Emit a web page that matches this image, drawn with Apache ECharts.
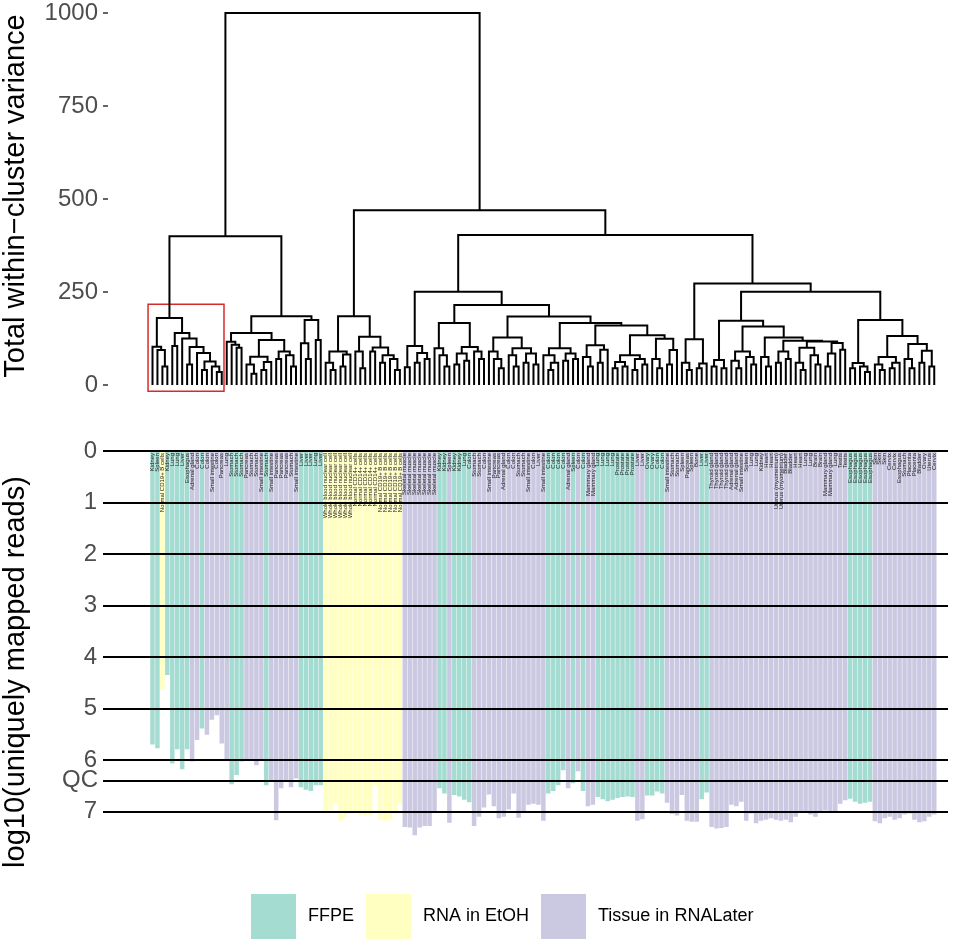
<!DOCTYPE html>
<html>
<head>
<meta charset="utf-8">
<script src="https://cdn.jsdelivr.net/npm/echarts@6/dist/echarts.min.js"></script>
<style>
html,body{margin:0;padding:0;background:#fff}
#main{width:980px;height:948px}
</style>
</head>
<body>
<div id="main"></div>
<script>
var SANS = '"Liberation Sans", Arial, sans-serif';

//聚类树：[合并高度, 左, 右]，叶子是它在排序中的位置
var tree =
[1000,
  [400,
    [180,
      [103, 0, [94, 1, [50, 2, 3]]],
      [140, [105, 4, 5],
        [125, 6, [102, [55, 7, 8], [86, 9, [63, [40, 10, 11], [50, 12, [35, 13, 14]]]]]]]],
    [185,
      [140,
        [116, 15, [108, 16, [100, 17, 18]]],
        [121,
          [76, [55, 19, [30, 20, 21]], [62, [40, 22, 23], 24]],
          [90, [70, 25, 26], [80, 27, [50, 28, 29]]]]],
      [175, [112, 30, [70, 31, 32]], [121, 33, 34]]]],
  [470,
    [185,
      [90, [60, 35, [40, 36, 37]], [82, [50, 38, 39], 40]],
      [130, [90, 41, [45, 42, 43]],
        [101, [90, 44, 45], [80, [60, 46, 47], [70, 48, [40, 49, 50]]]]]],
    [403,
      [251,
        [105, [48, 51, 52], [86, [60, 53, 54], [70, 55, 56]]],
        [215,
          [167,
            [99, 57, [80, 58, [50, 59, 60]]],
            [102, [85, [55, 61, 62], [65, 63, 64]], [90, 65, [70, 66, 67]]]],
          [184,
            [128,
              [90, 68, [70, 69, [45, 70, 71]]],
              [99, [80, 72, [50, 73, 74]], [85, [60, 75, 76], [55, 77, 78]]]],
            [167,
              [99, [80, 79, [60, [40, 80, 81], 82]], [85, [65, 83, 84], [70, 85, 86]]],
              [160,
                [107, [75, 87, [50, 88, 89]], [95, [60, 90, 91], 92]],
                [134,
                  [80, [62, [45, 93, 94], [50, 95, 96]], [70, [40, 97, 98], [55, 99, 100]]],
                  [124, [70, 101, [45, 102, 103]], [94, [55, 104, 105], 106]]]]]]]],
      [273,
        [123, [60, 107, [40, 108, 109]], [58, [45, 110, 111], 112]],
        [251,
          [173,
            [67, [50, 113, 114], [45, 115, 116]],
            [157,
              [90, [65, 117, [45, 118, 119]], [75, 120, [55, 121, 122]]],
              [128,
                [75, 123, [50, 124, 125]],
                [119,
                  [90, [60, 126, 127], [70, 128, 129]],
                  [117,
                    [100, [60, 130, [40, 131, 132]], [80, 133, [55, 134, 135]]],
                    [113, [85, [50, 136, 137], 138], [95, 139, 140]]]]]]],
          [175,
            [59, [45, 141, 142], [50, 143, [35, 144, 145]]],
            [132,
              [75, [55, 146, [40, 147, 148]], [60, [45, 149, 150], 151]],
              [110, [70, 152, [45, 153, 154]], [92, [60, 155, 156], [50, 157, 158]]]]]]]]]];

//红框圈出的簇：叶子范围和高度
var boxLeaves = [-0.9, 14.45];
var boxHeights = [-17, 217];

//每个样本的log10(唯一比对reads)
var logReads = [
  5.70, 5.77, 4.64, 4.35, 6.07, 5.79, 6.18, 5.79, 6.03, 5.61,
  5.39, 5.51, 5.22, 5.13, 5.68, 6.00, 6.47, 6.29, 6.03, 6.00,
  6.00, 6.10, 6.00, 6.49, 6.39, 7.17, 6.55, 6.39, 6.53, 6.36,
  6.53, 6.58, 6.60, 6.49, 6.49, 7.02, 6.98, 6.85, 7.18, 7.12,
  7.05, 7.00, 7.07, 7.08, 7.07, 6.50, 7.16, 7.18, 7.15, 7.05,
  6.85, 7.30, 7.31, 7.46, 7.31, 7.28, 7.28, 7.03, 6.55, 6.65,
  7.22, 6.68, 6.71, 6.77, 6.82, 7.28, 7.10, 6.92, 6.67, 6.90,
  7.13, 7.10, 6.96, 6.65, 7.12, 7.03, 6.87, 6.85, 6.87, 7.18,
  6.65, 6.60, 6.49, 6.20, 6.55, 6.45, 6.22, 6.60, 6.90, 6.87,
  6.72, 6.76, 6.80, 6.77, 6.74, 6.72, 6.71, 6.72, 7.18, 7.15,
  6.69, 6.69, 6.61, 6.65, 6.83, 7.05, 7.08, 6.68, 7.18, 7.20,
  7.20, 6.76, 6.63, 7.30, 7.33, 7.32, 7.30, 6.87, 6.90, 6.81,
  7.18, 7.04, 7.23, 7.18, 7.16, 7.13, 7.16, 7.18, 7.16, 7.21,
  7.10, 7.00, 7.00, 7.06, 7.10, 7.00, 6.98, 7.00, 7.00, 6.85,
  6.78, 6.75, 6.81, 6.85, 6.83, 6.81, 7.19, 7.23, 7.13, 7.10,
  7.16, 7.13, 7.06, 7.04, 7.16, 7.21, 7.19, 7.10, 7.06
];

//样本保存方式：0 FFPE, 1 RNA in EtOH, 2 Tissue in RNALater
var sampleType = [
  0, 0, 1, 0, 0, 0, 0, 0, 2, 2,
  0, 2, 2, 2, 2, 2, 0, 0, 0, 2,
  2, 2, 2, 0, 2, 2, 2, 2, 2, 2,
  0, 0, 0, 0, 0, 1, 1, 1, 1, 1,
  1, 1, 1, 1, 1, 1, 1, 1, 1, 1,
  1, 2, 2, 2, 2, 2, 2, 2, 0, 0,
  2, 0, 0, 0, 0, 2, 2, 2, 2, 2,
  2, 2, 2, 2, 2, 2, 2, 2, 2, 2,
  0, 0, 0, 0, 2, 0, 2, 0, 2, 2,
  0, 0, 0, 0, 0, 0, 0, 0, 2, 2,
  0, 0, 0, 0, 2, 2, 2, 2, 2, 2,
  2, 0, 0, 2, 2, 2, 2, 2, 2, 2,
  2, 2, 2, 2, 2, 2, 2, 2, 2, 2,
  2, 2, 2, 2, 2, 2, 2, 2, 2, 2,
  2, 0, 0, 0, 0, 0, 2, 2, 2, 2,
  2, 2, 2, 2, 2, 2, 2, 2, 2
];

var tissues = [
  'Kidney', 'Spleen', 'Normal CD19+ B cells', 'Kidney', 'Lung', 'Lung', 'Liver', 'Esophagus', 'Adrenal gland', 'Colon',
  'Colon', 'Colon', 'Small intestine', 'Colon', 'Pancreas', 'Lung', 'Stomach', 'Stomach', 'Stomach', 'Pancreas',
  'Stomach', 'Stomach', 'Small intestine', 'Stomach', 'Small intestine', 'Pancreas', 'Pancreas', 'Pancreas', 'Stomach', 'Small intestine',
  'Liver', 'Liver', 'Liver', 'Lung', 'Liver', 'Whole blood nuclear cell', 'Whole blood nuclear cell', 'Whole blood nuclear cell', 'Whole blood nuclear cell', 'Whole blood nuclear cell',
  'Whole blood nuclear cell', 'Normal CD14+ cells', 'Normal CD14+ cells', 'Normal CD14+ cells', 'Normal CD14+ cells', 'Normal CD14+ cells', 'Normal CD19+ B cells', 'Normal CD19+ B cells', 'Normal CD19+ B cells', 'Normal CD19+ B cells',
  'Normal CD19+ B cells', 'Skeletal muscle', 'Skeletal muscle', 'Skeletal muscle', 'Skeletal muscle', 'Skeletal muscle', 'Skeletal muscle', 'Skeletal muscle', 'Kidney', 'Kidney',
  'Spleen', 'Kidney', 'Kidney', 'Lung', 'Colon', 'Stomach', 'Stomach', 'Colon', 'Small intestine', 'Pancreas',
  'Pancreas', 'Adrenal gland', 'Colon', 'Colon', 'Stomach', 'Stomach', 'Small intestine', 'Colon', 'Liver', 'Small intestine',
  'Colon', 'Colon', 'Colon', 'Colon', 'Adrenal gland', 'Spleen', 'Colon', 'Colon', 'Mammary gland', 'Mammary gland',
  'Lung', 'Lung', 'Lung', 'Lung', 'Prostate', 'Prostate', 'Prostate', 'Prostate', 'Liver', 'Liver',
  'Ovary', 'Ovary', 'Colon', 'Colon', 'Small intestine', 'Stomach', 'Stomach', 'Spleen', 'Pancreas', 'Spleen',
  'Bone', 'Liver', 'Liver', 'Thyroid gland', 'Thyroid gland', 'Thyroid gland', 'Thyroid gland', 'Adrenal gland', 'Adrenal gland', 'Small intestine',
  'Spleen', 'Lung', 'Lung', 'Kidney', 'Heart', 'Heart', 'Uterus (myometrium)', 'Uterus (myometrium)', 'Bladder', 'Bladder',
  'Heart', 'Heart', 'Lung', 'Lung', 'Brain', 'Brain', 'Mammary gland', 'Mammary gland', 'Lung', 'Testis',
  'Testis', 'Esophagus', 'Esophagus', 'Esophagus', 'Esophagus', 'Esophagus', 'Skin', 'Skin', 'Skin', 'Cervix',
  'Cervix', 'Esophagus', 'Stomach', 'Placenta', 'Placenta', 'Bladder', 'Ovary', 'Uterus', 'Cervix'
];

var typeNames = ['FFPE', 'RNA in EtOH', 'Tissue in RNALater'];
var typeColors = ['rgba(141,211,199,0.8)', 'rgba(255,255,179,0.8)', 'rgba(190,186,218,0.8)'];
var readLevels = [0, 1, 2, 3, 4, 5, 6, 7];
var qcLevel = 6.4;

var myChart = echarts.init(document.getElementById('main'));

//把树拆成每个节点一条折线
var segs = [];
var walk = function(node) {
    if (typeof node === 'number') {
        return {x: node, h: 0};
    }
    var l = walk(node[1]);
    var r = walk(node[2]);
    segs.push({coords: [[l.x, l.h], [l.x, node[0]], [r.x, node[0]], [r.x, r.h]]});
    return {x: (l.x + r.x) / 2, h: node[0]};
};
walk(tree);

var barSeries = typeNames.map(function(name, t) {
    var data = [];
    for (var i = 0; i < logReads.length; i++) {
        if (sampleType[i] === t) {
            data.push({value: [i, logReads[i]], name: tissues[i]});
        }
    }
    return {
        name: name,
        type: 'bar',
        xAxisIndex: 1,
        yAxisIndex: 1,
        barWidth: 4.5,
        barGap: '-100%',
        z: 3,
        itemStyle: {color: typeColors[t]},
        label: {
            show: true,
            position: ['50%', 2],
            rotate: 90,
            align: 'right',
            verticalAlign: 'middle',
            fontSize: 6,
            fontFamily: SANS,
            color: '#222',
            textBorderWidth: 0,
            formatter: function(p) { return p.name; }
        },
        data: data
    };
});

var hlines = readLevels.map(function(v) {
    return {yAxis: v};
});
hlines.push({
    yAxis: qcLevel,
    label: {show: true, position: 'start', formatter: 'QC', fontSize: 24, fontFamily: SANS, color: '#4d4d4d', distance: 5}
});

var series = [{
    type: 'lines',
    coordinateSystem: 'cartesian2d',
    xAxisIndex: 0,
    yAxisIndex: 0,
    polyline: true,
    silent: true,
    lineStyle: {color: '#000', width: 2, opacity: 1},
    data: segs
}, {
    type: 'line',
    xAxisIndex: 1,
    yAxisIndex: 1,
    data: [],
    z: 1,
    markLine: {
        silent: true,
        symbol: 'none',
        lineStyle: {color: '#000', width: 2, type: 'solid'},
        label: {show: false},
        data: hlines
    }
}].concat(barSeries);

var tickFont = {fontSize: 24, fontFamily: SANS, color: '#4d4d4d'};

var titles = [{
    type: 'text', id: 'topTitle', x: 16, y: 196, rotation: Math.PI / 2,
    style: {text: 'Total within\u2212cluster variance', font: '29px ' + SANS, fill: '#000', align: 'center', verticalAlign: 'middle'}
}, {
    type: 'text', id: 'bottomTitle', x: 16, y: 672, rotation: Math.PI / 2,
    style: {text: 'log10(uniquely mapped reads)', font: '29px ' + SANS, fill: '#000', align: 'center', verticalAlign: 'middle'}
}];

myChart.setOption({
    animation: false,
    backgroundColor: '#fff',
    grid: [
        {left: 108, right: 32, top: 13, bottom: 563},
        {left: 103, right: 32, top: 451, height: 7.6 * 51.5}
    ],
    xAxis: [
        {gridIndex: 0, type: 'value', min: -8.994, max: 160.78, show: false},
        {gridIndex: 1, type: 'value', min: -10.004, max: 160.78, show: false}
    ],
    yAxis: [{
        gridIndex: 0, type: 'value', min: 0, max: 1000, interval: 250,
        axisLine: {show: false, onZero: false},
        axisTick: {show: true, length: 5, lineStyle: {color: '#333', width: 1.5}},
        axisLabel: Object.assign({margin: 10, formatter: function(v) { return String(v); }}, tickFont),
        splitLine: {show: false}
    }, {
        gridIndex: 1, type: 'value', inverse: true, min: 0, max: 7.6, interval: 1,
        axisLine: {show: false, onZero: false},
        axisTick: {show: false},
        axisLabel: Object.assign({
            margin: 6,
            formatter: function(v) { return Math.abs(v - Math.round(v)) < 1e-6 ? String(v) : ''; }
        }, tickFont),
        splitLine: {show: false}
    }],
    legend: {
        left: 251,
        top: 894,
        padding: 0,
        icon: 'rect',
        itemWidth: 45,
        itemHeight: 45,
        itemGap: 12,
        selectedMode: false,
        textStyle: {fontSize: 18, fontFamily: SANS, color: '#000', padding: [6, 0, 0, 7]},
        data: typeNames
    },
    series: series
});

//红框用坐标轴换算到像素
var p0 = myChart.convertToPixel({gridIndex: 0}, [boxLeaves[0], boxHeights[1]]);
var p1 = myChart.convertToPixel({gridIndex: 0}, [boxLeaves[1], boxHeights[0]]);
myChart.setOption({
    graphic: titles.concat([{
        type: 'rect',
        id: 'redBox',
        shape: {x: p0[0], y: p0[1], width: p1[0] - p0[0], height: p1[1] - p0[1]},
        style: {fill: 'none', stroke: '#d62b2b', lineWidth: 1.5},
        silent: true
    }])
});
</script>
</body>
</html>
